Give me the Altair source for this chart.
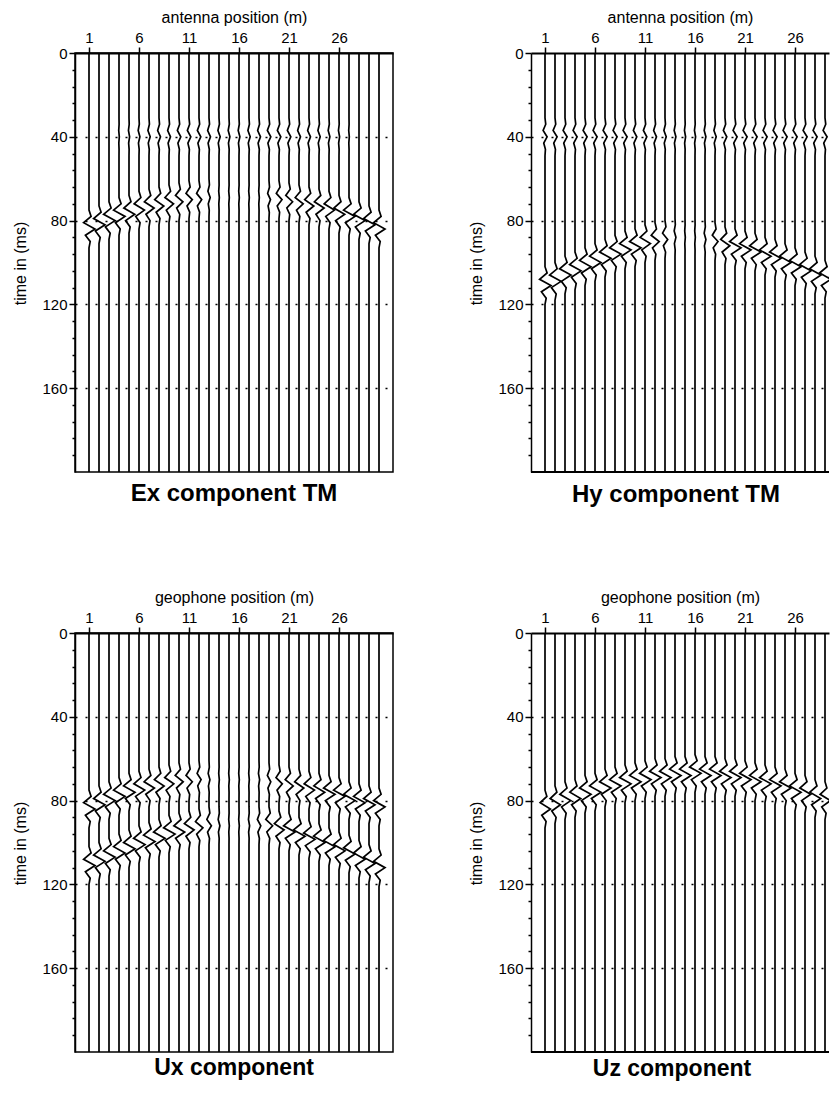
import altair as alt
import pandas as pd

# ---------------- data ----------------
positions = list(range(1, 31))
x_tick_values = [1, 6, 11, 16, 21, 26]
y_tick_values = [0, 8, 16, 24, 32, 40, 48, 56, 64, 72, 80, 88, 96, 104, 112,
                 120, 128, 136, 144, 152, 160, 168, 176, 184, 192]
time_range = [0, 200]

# wavelet shape (time offset in ms, relative deflection)
wavelet_offset = [-9, -6, -3, 0, 3, 6, 9]
wavelet_shape = [0.0, 0.35, -0.9, 1.0, -0.6, 0.2, 0.0]

# Ex component TM
ex_time = [84, 82, 80, 78, 77, 75, 74, 73, 72, 71, 70, 70, 69, 69, 69,
           69, 69, 69, 70, 70, 71, 72, 73, 74, 75, 77, 78, 80, 82, 84]
ex_amp = [1.0, 1.0, 1.0, 1.0, 0.95, 0.9, 0.85, 0.8, 0.75, 0.65, 0.55, 0.45, 0.2, 0.05, 0.05,
          0.05, 0.05, 0.05, 0.25, 0.5, 0.6, 0.7, 0.8, 0.85, 0.9, 0.95, 1.0, 1.0, 1.0, 1.0]
ex_weak_time = 40
ex_weak_amp = [0.0, 0.0, 0.0, 0.05, 0.1, 0.15, 0.2, 0.25, 0.25, 0.3, 0.3, 0.3, 0.25, 0.2, 0.15,
               0.15, 0.2, 0.25, 0.3, 0.3, 0.3, 0.25, 0.25, 0.2, 0.15, 0.1, 0.05, 0.0, 0.0, 0.0]

# Hy component TM
hy_time = [111, 109, 106, 104, 102, 100, 98, 96, 94, 93, 91, 90, 89, 88, 88,
           88, 89, 90, 92, 93, 94, 95, 97, 98, 100, 102, 104, 106, 108, 110]
hy_amp = [1.0, 1.0, 1.0, 1.0, 1.0, 1.0, 1.0, 1.0, 1.0, 1.0, 0.9, 0.7, 0.45, 0.15, 0.05,
          0.05, 0.15, 0.5, 0.8, 1.0, 1.0, 1.0, 1.0, 1.0, 1.0, 1.0, 1.0, 1.0, 1.0, 1.0]
hy_weak_time = 40
hy_weak_amp = [0.35, 0.35, 0.35, 0.35, 0.35, 0.35, 0.35, 0.35, 0.35, 0.3, 0.3, 0.25, 0.2, 0.15, 0.1,
               0.1, 0.15, 0.2, 0.3, 0.35, 0.35, 0.35, 0.35, 0.35, 0.35, 0.35, 0.35, 0.35, 0.35, 0.35]

# Ux component
ux_time_1 = [84, 82, 80, 78, 76, 75, 74, 73, 72, 71, 71, 70, 70, 70, 70,
             70, 70, 70, 71, 72, 73, 74, 75, 76, 77, 78, 80, 81, 82, 83]
ux_amp_1 = [1.0, 1.0, 1.0, 1.0, 1.0, 0.95, 0.9, 0.85, 0.8, 0.7, 0.55, 0.35, 0.15, 0.05, 0.05,
            0.05, 0.05, 0.1, 0.3, 0.55, 0.7, 0.8, 0.9, 0.95, 1.0, 1.0, 1.0, 1.0, 1.0, 1.0]
ux_time_2 = [111, 109, 107, 105, 103, 101, 99.5, 98, 96, 95, 94, 93, 92, 92, 92,
             92, 92, 92, 92, 94, 95, 97, 98.5, 100, 102, 104, 105.5, 108, 110, 112]
ux_amp_2 = [1.0, 1.0, 1.0, 1.0, 1.0, 1.0, 1.0, 1.0, 1.0, 0.95, 0.85, 0.65, 0.4, 0.15, 0.05,
            0.05, 0.1, 0.3, 0.6, 0.85, 1.0, 1.0, 1.0, 1.0, 1.0, 1.0, 1.0, 1.0, 1.0, 1.0]

# Uz component
uz_time = [84, 82, 80, 79, 77, 76, 74, 73, 72, 71, 70, 69, 69, 68, 68,
           67, 68, 68, 69, 69, 70, 71, 72, 73, 74, 76, 77, 79, 80, 82]
uz_amp = [0.9, 0.9, 0.95, 0.95, 1.0, 1.0, 1.0, 1.0, 1.0, 1.0, 1.0, 1.0, 1.0, 1.0, 1.0,
          1.0, 1.0, 1.0, 1.0, 1.0, 1.0, 1.0, 1.0, 1.0, 1.0, 1.0, 0.95, 0.95, 0.9, 0.9]

gain = 0.6  # trace deflection in position units at relative amplitude 1

FONT = "Liberation Sans"
PLOT_H = 419


def build_table(events):
    rows = []
    for i, p in enumerate(positions):
        pts = [(float(time_range[0]), float(p))]
        evs = []
        for times, amps in events:
            c = times if isinstance(times, (int, float)) else times[i]
            evs.append((c, amps[i]))
        evs.sort(key=lambda e: e[0])
        for c, a in evs:
            if a <= 0:
                continue
            for off, w in zip(wavelet_offset, wavelet_shape):
                pts.append((c + off, p + gain * a * w))
        pts.append((float(time_range[1]), float(p)))
        for k, (t, x) in enumerate(pts):
            rows.append({"trace": p, "k": k, "t": t, "x": x})
    return pd.DataFrame(rows)


def panel(events, xtitle, title, width, xdomain, title_offset, title_size,
          title_dx=0, cut_right=False):
    df = build_table(events)
    base = alt.Chart(df)
    traces = base.mark_line(color="black", strokeWidth=1.7, clip=True).encode(
        x=alt.X("x:Q",
                scale=alt.Scale(domain=xdomain, nice=False, zero=False),
                axis=alt.Axis(orient="top", values=x_tick_values, title=xtitle,
                              labelFontSize=15, titleFontSize=16, titleFontWeight="normal",
                              tickSize=6, tickWidth=1.5, tickColor="black", labelPadding=2,
                              domainWidth=2.2, domainColor="black", labelColor="black",
                              titleColor="black", titleY=-35.5, titleBaseline="middle",
                              grid=False)),
        y=alt.Y("t:Q",
                scale=alt.Scale(domain=time_range, reverse=True, nice=False, zero=False),
                axis=alt.Axis(values=y_tick_values, title="time in (ms)",
                              labelExpr="datum.value % 40 === 0 ? datum.label : ''",
                              labelFontSize=15, titleFontSize=16, titleFontWeight="normal",
                              tickSize={"condition": {"test": "datum.value % 40 === 0", "value": 6},
                                        "value": 3},
                              tickWidth=1.5, tickColor="black", labelPadding=2,
                              domainWidth=1.5, domainColor="black", labelColor="black",
                              titleColor="black", titleX=-55, titleY=210,
                              titleBaseline="middle",
                              grid=True, gridColor="black", gridWidth=1.6, gridDash=[2, 8],
                              gridOpacity={"condition": {"test": "datum.value % 40 === 0 && datum.value > 0",
                                                         "value": 1}, "value": 0})),
        detail="trace:N",
        order="k:Q",
    )
    props = dict(
        width=width, height=PLOT_H,
        title=alt.TitleParams(title, orient="bottom", anchor="middle", frame="group",
                              fontSize=title_size, fontWeight="bold", offset=title_offset,
                              dx=title_dx, color="black", font=FONT),
    )
    if cut_right:
        # the page cuts this panel at its right side: no right frame line
        bottom = base.mark_rule(color="black", strokeWidth=1.5).encode(
            y=alt.value(PLOT_H), x=alt.value(0), x2=alt.value(width))
        return alt.layer(traces, bottom).properties(
            view=alt.ViewBackground(stroke="transparent"), **props)
    return traces.properties(**props)


LEFT_W, LEFT_DOM = 318, [-0.4, 31.4]
RIGHT_W, RIGHT_DOM = 298, [-0.4, 29.4]

p_ex = panel([(ex_time, ex_amp), (ex_weak_time, ex_weak_amp)],
             "antenna position (m)", "Ex component TM", LEFT_W, LEFT_DOM, 10, 24)
p_hy = panel([(hy_time, hy_amp), (hy_weak_time, hy_weak_amp)],
             "antenna position (m)", "Hy component TM", RIGHT_W, RIGHT_DOM, 10, 24,
             title_dx=-4, cut_right=True)
p_ux = panel([(ux_time_1, ux_amp_1), (ux_time_2, ux_amp_2)],
             "geophone position (m)", "Ux component", LEFT_W, LEFT_DOM, 5, 23)
p_uz = panel([(uz_time, uz_amp)],
             "geophone position (m)", "Uz component", RIGHT_W, RIGHT_DOM, 5, 23,
             title_dx=-8, cut_right=True)

row1 = alt.hconcat(p_ex, p_hy, spacing=73)
row2 = alt.hconcat(p_ux, p_uz, spacing=73)

chart = alt.vconcat(row1, row2, spacing=80).properties(
    padding={"left": 3, "top": 0, "right": 0, "bottom": 0},
    background="white",
).configure(font=FONT).configure_view(stroke="black", strokeWidth=1.5)

chart.save("out.html", embed_options={"renderer": "svg", "actions": False})
